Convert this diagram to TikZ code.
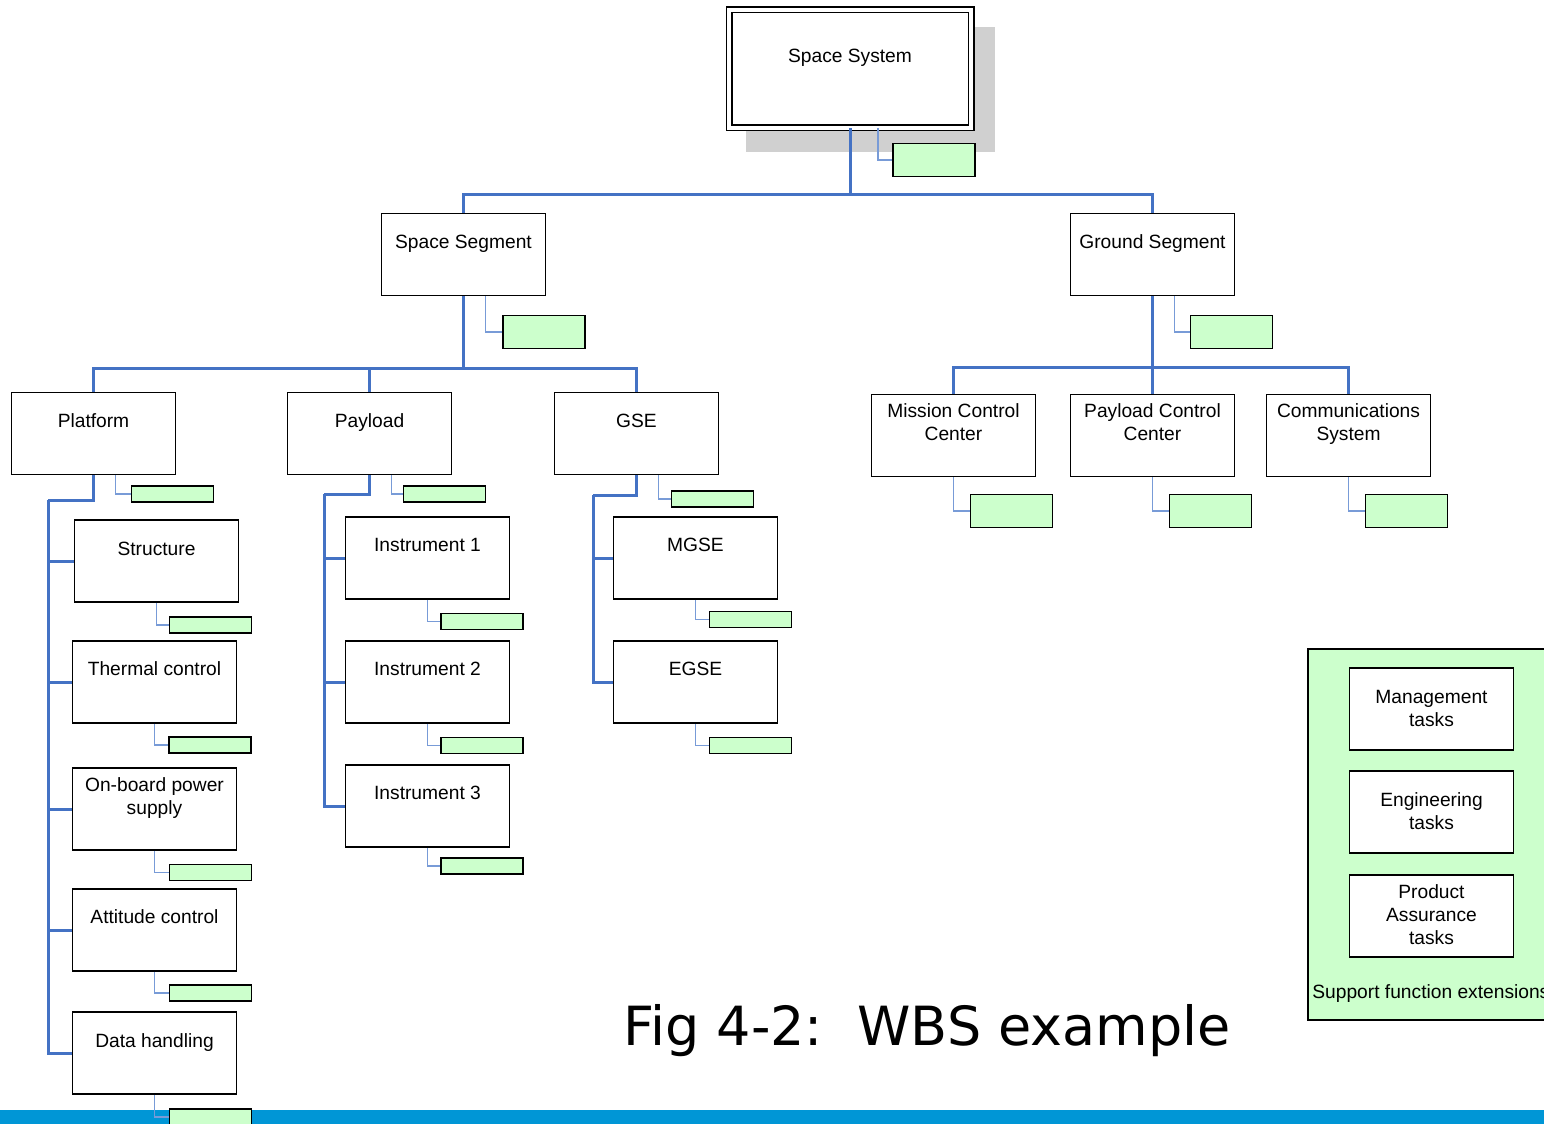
\documentclass[tikz,border=0pt]{standalone}
\usepackage{fontspec}
\setmainfont{Liberation Sans}
\newfontfamily\capfont{DejaVu Sans}
\definecolor{wpgreen}{RGB}{204,255,204}
\definecolor{wbsblue}{RGB}{68,114,196}
\definecolor{twigblue}{RGB}{120,155,215}
\definecolor{shadowgray}{RGB}{208,208,208}
\definecolor{barblue}{RGB}{0,150,214}
\tikzset{
  wbs/.style={draw=black, line width=0.75pt, fill=white, minimum width=82pt, minimum height=41pt, inner sep=0pt},
  wp/.style={draw=black, line width=0.75pt, fill=wpgreen, minimum width=41pt, minimum height=8pt, inner sep=0pt},
  bigwp/.style={wp, minimum height=16.5pt},
  trunk/.style={draw=wbsblue, line width=1.5pt},
  twig/.style={draw=twigblue, line width=0.6pt},
  lbl/.style={anchor=base, align=center, inner sep=0pt, font={\fontsize{9.6}{11.5}\selectfont}}
}
\begin{document}
\begin{tikzpicture}[x=0.5pt,y=0.5pt,yscale=-1,xscale=1]
        \useasboundingbox (0,0) rectangle (1544,1124);

        %Shape: Bottom bar
        \fill [barblue] (0,1110) rectangle (1544,1130);
        %Shape: Shadow of top box
        \fill [shadowgray] (746,27) rectangle (995,152);

        %Shape: Top box
        \node [wbs, draw=black, double=white, double distance=2pt, minimum width=121pt, minimum height=59pt] (sys) at (850,68.5) {};
        \draw (850,62.5) node [lbl] (sys-t) {Space System};
        \node [bigwp] (sys-wp) at (934,160) {};

        %Shape: Level 2
        \node [wbs] (sseg) at (463.5,254.5) {};
        \draw (463.5,248.5) node [lbl] (sseg-t) {Space Segment};
        \node [bigwp] (sseg-wp) at (544,332) {};
        \node [wbs] (gseg) at (1152.5,254.5) {};
        \draw (1152.5,248.5) node [lbl] (gseg-t) {Ground Segment};
        \node [bigwp] (gseg-wp) at (1231.5,332) {};

        %Shape: Level 3, space segment
        \node [wbs] (plat) at (93.5,433.5) {};
        \draw (93.5,427.5) node [lbl] (plat-t) {Platform};
        \node [wp] (plat-wp) at (172.5,494) {};
        \node [wbs] (pay) at (369.5,433.5) {};
        \draw (369.5,427.5) node [lbl] (pay-t) {Payload};
        \node [wp] (pay-wp) at (444.5,494) {};
        \node [wbs] (gse) at (636.5,433.5) {};
        \draw (636.5,427.5) node [lbl] (gse-t) {GSE};
        \node [wp] (gse-wp) at (712.5,499) {};

        %Shape: Level 3, ground segment
        % (multi-line text sits on the base of its last line)
        \node [wbs] (mcc) at (953.5,435.5) {};
        \draw (953.5,440.5) node [lbl] (mcc-t) {Mission Control\\Center};
        \node [bigwp] (mcc-wp) at (1011.5,511) {};
        \node [wbs] (pcc) at (1152.5,435.5) {};
        \draw (1152.5,440.5) node [lbl] (pcc-t) {Payload Control\\Center};
        \node [bigwp] (pcc-wp) at (1210.5,511) {};
        \node [wbs] (com) at (1348.5,435.5) {};
        \draw (1348.5,440.5) node [lbl] (com-t) {Communications\\System};
        \node [bigwp] (com-wp) at (1406.5,511) {};

        %Shape: Level 4, platform
        \node [wbs] (str) at (156.5,561) {};
        \draw (156.5,555.5) node [lbl] (str-t) {Structure};
        \node [wp] (str-wp) at (210.5,625) {};
        \node [wbs] (thm) at (154.5,682) {};
        \draw (154.5,675.5) node [lbl] (thm-t) {Thermal control};
        \node [wp] (thm-wp) at (210,745) {};
        \node [wbs] (pwr) at (154.5,809) {};
        \draw (154.5,814.5) node [lbl] (pwr-t) {On-board power\\supply};
        \node [wp] (pwr-wp) at (210.5,872.5) {};
        \node [wbs] (att) at (154.5,930) {};
        \draw (154.5,923.5) node [lbl] (att-t) {Attitude control};
        \node [wp] (att-wp) at (210.5,993) {};
        \node [wbs] (dh) at (154.5,1053) {};
        \draw (154.5,1047.5) node [lbl] (dh-t) {Data handling};
        \node [wp] (dh-wp) at (210.5,1117) {};

        %Shape: Level 4, payload
        \node [wbs] (ins1) at (427.5,558) {};
        \draw (427.5,551.5) node [lbl] (ins1-t) {Instrument 1};
        \node [wp] (ins1-wp) at (482,621.5) {};
        \node [wbs] (ins2) at (427.5,682) {};
        \draw (427.5,675.5) node [lbl] (ins2-t) {Instrument 2};
        \node [wp] (ins2-wp) at (482,745.5) {};
        \node [wbs] (ins3) at (427.5,806) {};
        \draw (427.5,799.5) node [lbl] (ins3-t) {Instrument 3};
        \node [wp] (ins3-wp) at (482,866) {};

        %Shape: Level 4, GSE
        \node [wbs] (mgse) at (695.5,558) {};
        \draw (695.5,551.5) node [lbl] (mgse-t) {MGSE};
        \node [wp] (mgse-wp) at (750.5,619.5) {};
        \node [wbs] (egse) at (695.5,682) {};
        \draw (695.5,675.5) node [lbl] (egse-t) {EGSE};
        \node [wp] (egse-wp) at (750.5,745.5) {};

        %Straight Lines: tree
        \coordinate (sysbus) at (850,194);
        \coordinate (ssbus) at (463.5,368);
        \coordinate (gsbus) at (1152.5,367);
        \coordinate (platbus) at (48,500);
        \coordinate (paybus) at (324,494);
        \coordinate (gsebus) at (593,495);
        \draw [trunk] (sys.south) -- (sysbus);
        \foreach \c in {sseg,gseg} \draw [trunk] (sysbus) -| (\c.north);
        \draw [trunk] (sseg.south) -- (ssbus);
        \foreach \c in {plat,pay,gse} \draw [trunk] (ssbus) -| (\c.north);
        \draw [trunk] (gseg.south) -- (gsbus);
        \foreach \c in {mcc,pcc,com} \draw [trunk] (gsbus) -| (\c.north);
        \draw [trunk] (plat.south) |- (platbus);
        \foreach \c in {str,thm,pwr,att,dh} \draw [trunk] (platbus) |- (\c.west);
        \draw [trunk] (pay.south) |- (paybus);
        \foreach \c in {ins1,ins2,ins3} \draw [trunk] (paybus) |- (\c.west);
        \draw [trunk] (gse.south) |- (gsebus);
        \foreach \c in {mgse,egse} \draw [trunk] (gsebus) |- (\c.west);

        %Straight Lines: work packages
        \draw [twig] ([xshift=14pt]sys.south) |- (sys-wp.west);
        \foreach \c in {sseg,gseg,plat,pay,gse} \draw [twig] ([xshift=11pt]\c.south) |- (\c-wp.west);
        \foreach \c in {mcc,pcc,com,str,thm,pwr,att,dh,ins1,ins2,ins3,mgse,egse} \draw [twig] (\c.south) |- (\c-wp.west);

        %Shape: Support functions
        \node [draw=black, line width=0.75pt, fill=wpgreen, anchor=north west, minimum width=130pt, minimum height=185.5pt, inner sep=0pt] (sup) at (1307,648) {};
        \node [wbs] (mgt) at (1431.5,709) {};
        \draw (1431.5,726.5) node [lbl] (mgt-t) {Management\\tasks};
        \node [wbs] (eng) at (1431.5,812) {};
        \draw (1431.5,829.5) node [lbl] (eng-t) {Engineering\\tasks};
        \node [wbs] (pa) at (1431.5,916) {};
        \draw (1431.5,944.5) node [lbl] (pa-t) {Product\\Assurance\\tasks};
        \draw (1312,998.5) node [lbl, anchor=base west] (sup-t) {Support function extensions};

        % Text Node
        \draw (927,1045) node [anchor=base, inner sep=0pt, font={\capfont\fontsize{27}{32}\selectfont}] (cap) {Fig 4-2:~~WBS example};
\end{tikzpicture}
\end{document}
